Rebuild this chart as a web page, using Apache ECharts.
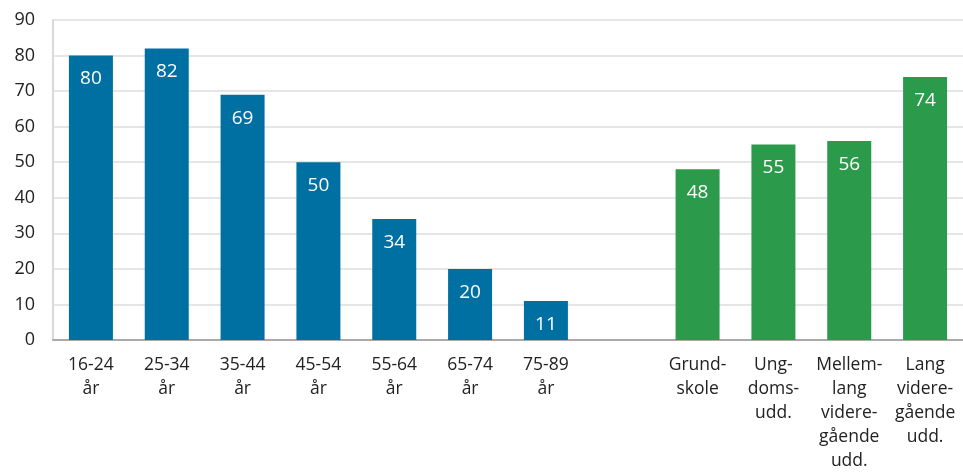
<!DOCTYPE html>
<html><head><meta charset="utf-8">
<script src="https://cdn.jsdelivr.net/npm/echarts@6/dist/echarts.min.js"></script>
<style>html,body{margin:0;padding:0;background:#fff}#c{width:963px;height:475px}</style>
</head><body><div id="c"></div>
<script>
const categories = ['16-24\når','25-34\når','35-44\når','45-54\når','55-64\når','65-74\når','75-89\når','',
  'Grund-\nskole','Ung-\ndoms-\nudd.','Mellem-\nlang\nvidere-\ngående\nudd.','Lang\nvidere-\ngående\nudd.'];
const ageValues = [80, 82, 69, 50, 34, 20, 11, '-', '-', '-', '-', '-'];
const eduValues = ['-', '-', '-', '-', '-', '-', '-', '-', 48, 55, 56, 74];
const yTicks = {min: 0, max: 90, interval: 10};

const font = '"Open Sans", "Liberation Sans", sans-serif';
const chart = echarts.init(document.getElementById('c'));
const labelCfg = {show: true, position: 'insideTop', distance: 14, color: '#fff', fontSize: 19, fontFamily: font};
chart.setOption({
  animation: false,
  grid: {left: 53, right: 0, top: 20, bottom: 135, containLabel: false},
  xAxis: {
    type: 'category', data: categories,
    axisLine: {lineStyle: {color: '#aaaaaa', width: 2}},
    axisTick: {show: false},
    axisLabel: {interval: 0, color: '#222', fontSize: 17.5, fontFamily: font, lineHeight: 24, margin: 13}
  },
  yAxis: {
    type: 'value', min: yTicks.min, max: yTicks.max, interval: yTicks.interval,
    axisLine: {show: true, lineStyle: {color: '#d9d9d9', width: 2}},
    axisTick: {show: false},
    splitLine: {lineStyle: {color: '#dddddd', width: 1.5}},
    axisLabel: {color: '#222', fontSize: 18, fontFamily: font, margin: 18}
  },
  series: [
    {type: 'bar', data: ageValues, barWidth: 44, barGap: '-100%', itemStyle: {color: '#006fa2'}, label: labelCfg},
    {type: 'bar', data: eduValues, barWidth: 44, barGap: '-100%', itemStyle: {color: '#2b9a4b'}, label: labelCfg}
  ]
});
</script></body></html>
